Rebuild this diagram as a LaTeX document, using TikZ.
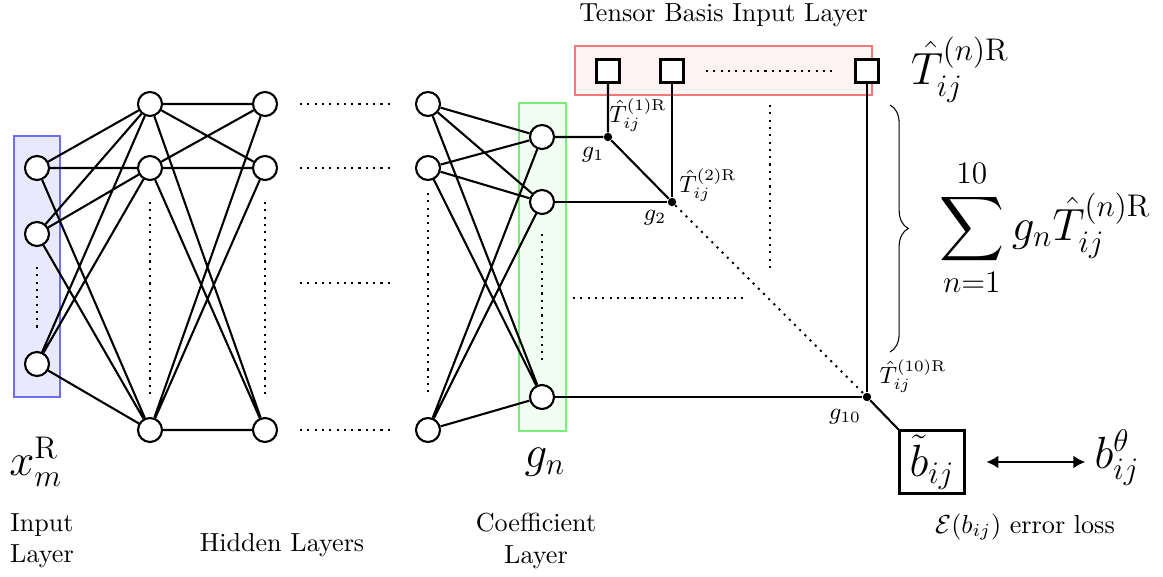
\documentclass[tikz,border=0pt]{standalone}
\usepackage{amsmath}
\usepackage{xcolor}
\usepackage{tikz}
\usetikzlibrary{positioning,calc,decorations.pathreplacing,arrows.meta}
\definecolor{inblue}{RGB}{110,110,245}
\definecolor{cogreen}{RGB}{120,240,120}
\definecolor{tbred}{RGB}{245,120,120}
\newcommand{\Tbasis}[1]{\hat{T}_{ij}^{(#1)\mathrm{R}}}

\begin{document}
\begin{tikzpicture}[x=0.383pt,y=-0.383pt,
  neuron/.style={circle,draw,thick,fill=white,minimum size=9.2pt,inner sep=0pt},
  basis/.style={rectangle,draw,thick,fill=white,minimum size=8.8pt,inner sep=0pt},
  junction/.style={circle,fill,inner sep=0pt,minimum size=3.2pt},
  gap/.style={thick,dotted},
  caption/.style={align=center,font=\normalsize},
  big/.style={font=\fontsize{18}{22}\selectfont}
]
\useasboundingbox (0,0) rectangle (1163,577);
% layer boxes
\draw[inblue,thick,fill=inblue!15] (14,136) rectangle (60,397);
\draw[cogreen,thick,fill=cogreen!10] (519,103) rectangle (566,431);
\node[draw=tbred,thick,fill=tbred!10,minimum width=113.7pt,minimum height=18.8pt,inner sep=0pt] (tbbox) at (723.5,70.5) {};
% input layer
\node[neuron] (in1) at (37,168) {};
\node[neuron] (in2) at (37,234) {};
\node[neuron] (in3) at (37,364) {};
\draw[gap] (37,267) -- (37,330);
% hidden layers
\node[neuron] (ha1) at (150,104) {};
\node[neuron] (ha2) at (150,168) {};
\node[neuron] (ha3) at (150,430) {};
\node[neuron] (hb1) at (265,104) {};
\node[neuron] (hb2) at (265,168) {};
\node[neuron] (hb3) at (265,430) {};
\node[neuron] (hc1) at (428,104) {};
\node[neuron] (hc2) at (428,168) {};
\node[neuron] (hc3) at (428,430) {};
\draw[gap] (150,202) -- (150,395);
\draw[gap] (265,202) -- (265,395);
\draw[gap] (428,193) -- (428,395);
\draw[gap] (300,104) -- (395,104);
\draw[gap] (300,168) -- (395,168);
\draw[gap] (300,283) -- (395,283);
\draw[gap] (300,430) -- (395,430);
% coefficient layer
\node[neuron] (co1) at (542,137) {};
\node[neuron] (co2) at (542,202) {};
\node[neuron] (co3) at (542,397) {};
\draw[gap] (542,234) -- (542,363);
% weights
\draw[thick] (in1) -- (ha1) (in1) -- (ha2) (in1) -- (ha3)
  (in2) -- (ha1) (in2) -- (ha2) (in2) -- (ha3)
  (in3) -- (ha1) (in3) -- (ha2) (in3) -- (ha3);
\draw[thick] (ha1) -- (hb1) (ha1) -- (hb2) (ha1) -- (hb3)
  (ha2) -- (hb1) (ha2) -- (hb2) (ha2) -- (hb3)
  (ha3) -- (hb1) (ha3) -- (hb2) (ha3) -- (hb3);
\draw[thick] (hc1) -- (co1) (hc1) -- (co2) (hc1) -- (co3)
  (hc2) -- (co1) (hc2) -- (co2) (hc2) -- (co3)
  (hc3) -- (co1) (hc3) -- (co2) (hc3) -- (co3);
% tensor basis
\node[basis] (tb1) at (608,71) {};
\node[basis] (tb2) at (672,71) {};
\node[basis] (tb3) at (867,71) {};
\draw[gap] (706,71) -- (832,71);
\node[above=3.5pt of tbbox] (tbtitle) {Tensor Basis Input Layer};
\node[big] (tblabel) at (960,70) {$\Tbasis{n}$};
% products g_n T^(n)
\node[junction] (g1) at (608,137) {};
\node[junction] (g2) at (672,202) {};
\node[junction] (g10) at (867,397) {};
\draw[thick] (co1) -- (g1) (tb1) -- (g1) (g1) -- (g2);
\draw[thick] (co2) -- (g2) (tb2) -- (g2);
\draw[thick] (co3) -- (g10) (tb3) -- (g10);
\draw[gap] (g2) -- (g10);
\draw[gap] (770,105) -- (770,273);
\draw[gap] (573,298) -- (745,298);
\node[font=\small] (lg1) at (593,155) {$g_1$};
\node[font=\small] (lg2) at (655,218) {$g_2$};
\node[font=\small] (lg10) at (845,417) {$g_{10}$};
\node[font=\small] (lt1) at (638,115) {$\Tbasis{1}$};
\node[font=\small] (lt2) at (708,185) {$\Tbasis{2}$};
\node[font=\small] (lt10) at (913,376) {$\Tbasis{10}$};
% sum
\draw[decorate,decoration={brace,amplitude=7pt}] (890,105) -- (890,352);
\node[big] (sum) at (1045,228) {$\displaystyle\sum_{n=1}^{10} g_n\Tbasis{n}$};
% output and loss
\node[rectangle,draw,thick,minimum width=24.9pt,minimum height=24.1pt,inner sep=1pt,big] (bt) at (932,462) {$\tilde{b}_{ij}$};
\draw[thick] (g10) -- (bt.north west);
\node[big] (bth) at (1117,458) {$b_{ij}^{\theta}$};
\draw[thick,{Latex[length=4.6pt,width=5pt]}-{Latex[length=4.6pt,width=5pt]},shorten <=8pt,shorten >=0pt] (bt.east) -- (bt.east -| bth.west);
\node (loss) at (1025,527) {$\mathcal{E}(b_{ij})$ error loss};
% layer captions
\node[big] (xlabel) at (36,462) {$x_m^{\mathrm{R}}$};
\node[big] (glabel) at (545,462) {$g_n$};
\node[caption] (incap) at (42,541) {Input\\Layer};
\node[caption] (hidcap) at (282,545) {Hidden Layers};
\node[caption] (cocap) at (536,541) {Coefficient\\Layer};
\end{tikzpicture}
\end{document}
